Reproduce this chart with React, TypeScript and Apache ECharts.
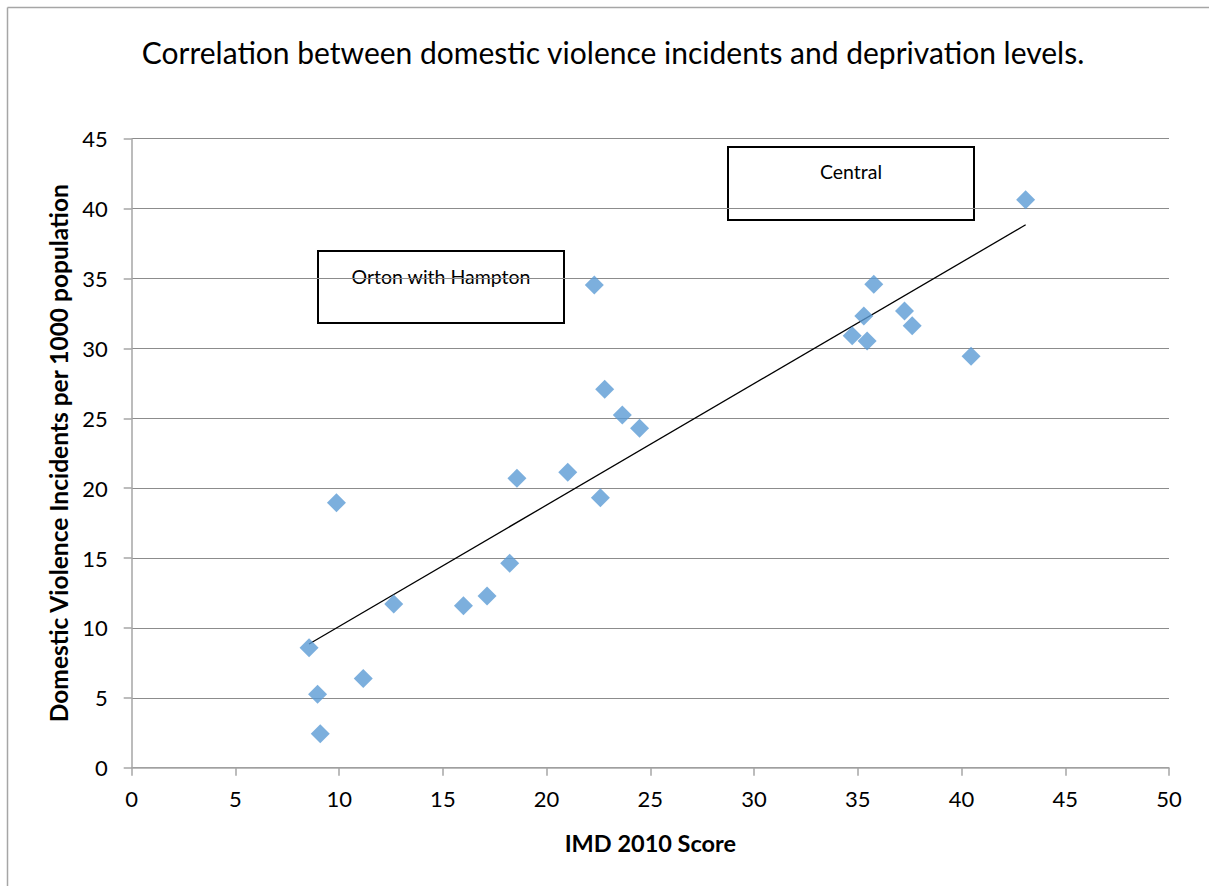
import React, { useEffect, useRef } from "react";
import * as echarts from "echarts";

const imdScores = [8.55, 8.96, 9.09, 11.16, 12.63, 15.99, 17.13, 18.22, 9.87, 22.3, 22.8, 23.65, 24.48, 18.57, 21.02, 22.59, 43.09, 35.77, 35.29, 34.73, 35.45, 37.25, 37.62, 40.46];
const dvRates = [8.58, 5.25, 2.43, 6.39, 11.71, 11.59, 12.28, 14.62, 18.96, 34.53, 27.07, 25.23, 24.28, 20.7, 21.13, 19.31, 40.63, 34.58, 32.31, 30.9, 30.52, 32.67, 31.62, 29.43];
const trendX = [8.55, 43.09];
const trendY = [8.85, 38.84];
const xTicks = [0, 5, 10, 15, 20, 25, 30, 35, 40, 45, 50];
const yTicks = [0, 5, 10, 15, 20, 25, 30, 35, 40, 45];
const titleText = "Correlation between domestic violence incidents and deprivation levels.";
const xTitle = "IMD 2010 Score";
const yTitle = "Domestic Violence Incidents per 1000 population";
const annotations = ["Orton with Hampton", "Central"];

const FONT = "Lato, 'Liberation Sans', sans-serif";

export default function App() {
  const ref = useRef<HTMLDivElement>(null);
  useEffect(() => {
    document.body.style.margin = "0";
    const chart = echarts.init(ref.current!, null, { renderer: "svg" });
    const points = imdScores.map((x, i) => [x, dvRates[i]]);
    const trend = trendX.map((x, i) => [x, trendY[i]]);
    chart.setOption({
      animation: false,
      backgroundColor: "#fff",
      textStyle: { fontFamily: FONT },
      title: {
        text: titleText,
        left: 608,
        textAlign: "center",
        top: 32,
        textStyle: { fontFamily: FONT, fontSize: 30, fontWeight: "normal", color: "#000" },
      },
      grid: { left: 131.7, right: 40, top: 138.7, bottom: 118.3 },
      xAxis: {
        type: "value",
        min: xTicks[0],
        max: xTicks[xTicks.length - 1],
        interval: 5,
        name: xTitle,
        nameLocation: "middle",
        nameGap: 63,
        nameTextStyle: { fontFamily: FONT, fontSize: 23.5, fontWeight: "bold", color: "#000" },
        axisLine: { show: true, lineStyle: { color: "#a6a6a6", width: 1.5 } },
        axisTick: { show: true, length: 8, lineStyle: { color: "#a6a6a6", width: 1.5 } },
        axisLabel: { fontFamily: FONT, fontSize: 22, color: "#000", margin: 20 },
        splitLine: { show: false },
      },
      yAxis: {
        type: "value",
        min: yTicks[0],
        max: yTicks[yTicks.length - 1],
        interval: 5,
        name: yTitle,
        nameLocation: "middle",
        nameGap: 60,
        nameRotate: 90,
        nameTextStyle: { fontFamily: FONT, fontSize: 24.5, fontWeight: "bold", color: "#000" },
        axisLine: { show: true, lineStyle: { color: "#a6a6a6", width: 1.5 } },
        axisTick: { show: true, inside: false, length: 8, lineStyle: { color: "#a6a6a6", width: 1.5 } },
        axisLabel: { fontFamily: FONT, fontSize: 22, color: "#000", margin: 24 },
        splitLine: { show: true, lineStyle: { color: "#8c8c8c", width: 1.2 } },
      },
      series: [
        {
          type: "scatter",
          data: points,
          symbol: "diamond",
          symbolSize: [19, 19],
          itemStyle: { color: "#5b9bd5" },
          z: 3,
        },
        {
          type: "line",
          data: trend,
          symbol: "none",
          lineStyle: { color: "#000", width: 1.3 },
          z: 2,
        },
      ],
      graphic: [
        {
          type: "line",
          shape: { x1: 7.5, y1: 7.5, x2: 1209, y2: 7.5 },
          style: { stroke: "#a6a6a6", lineWidth: 1.5 },
          silent: true,
        },
        {
          type: "line",
          shape: { x1: 7.5, y1: 7.5, x2: 7.5, y2: 886 },
          style: { stroke: "#a6a6a6", lineWidth: 1.5 },
          silent: true,
        },
        {
          type: "group",
          left: 317,
          top: 250,
          children: [
            {
              type: "rect",
              shape: { x: 0, y: 0, width: 246, height: 72 },
              style: { fill: "#fff", stroke: "#000", lineWidth: 2 },
            },
            {
              type: "text",
              x: 123,
              y: 25,
              style: { text: annotations[0], fontFamily: FONT, fontSize: 19.5, fill: "#000", align: "center", verticalAlign: "middle" },
            },
          ],
          z: 10,
        },
        {
          type: "group",
          left: 727,
          top: 146,
          children: [
            {
              type: "rect",
              shape: { x: 0, y: 0, width: 246, height: 73 },
              style: { fill: "#fff", stroke: "#000", lineWidth: 2 },
            },
            {
              type: "text",
              x: 123,
              y: 24,
              style: { text: annotations[1], fontFamily: FONT, fontSize: 19.5, fill: "#000", align: "center", verticalAlign: "middle" },
            },
          ],
          z: 10,
        },
      ],
    });
    return () => chart.dispose();
  }, []);
  return <div ref={ref} style={{ width: 1209, height: 886 }} />;
}
